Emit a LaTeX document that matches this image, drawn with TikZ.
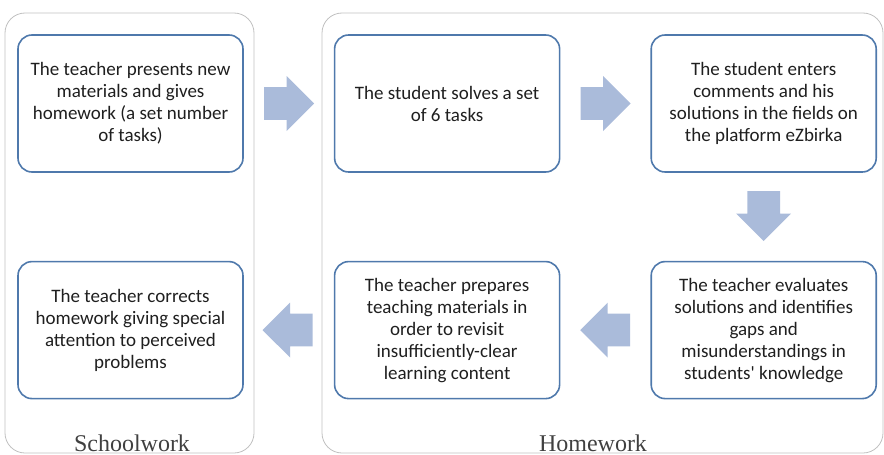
\documentclass[tikz,border=0pt]{standalone}
\usepackage{fontspec}
\setmainfont{Liberation Serif}
\newfontfamily\boxfont{Carlito}
\usetikzlibrary{positioning,shapes.arrows}
\definecolor{boxblue}{RGB}{79,121,172}
\definecolor{arrowblue}{RGB}{170,187,218}
\definecolor{framegray}{RGB}{192,192,192}
\definecolor{labelgray}{RGB}{64,64,64}

\begin{document}
\begin{tikzpicture}[x=1pt,y=-1pt,
  stepbox/.style={draw=boxblue, line width=1.6pt, rounded corners=14pt, fill=white,
    minimum width=225pt, minimum height=137pt, inner sep=0pt, align=center,
    text=black!88, font=\boxfont\fontsize{19}{22}\selectfont},
  flowarrow/.style={single arrow, fill=arrowblue, draw=none, inner sep=16pt,
    minimum height=50pt, minimum width=55pt, single arrow head extend=11pt},
  phase/.style={draw=framegray, line width=0.8pt, rounded corners=20pt},
  phaselabel/.style={anchor=base, text=labelgray, font=\fontsize{24}{28}\selectfont}]
\useasboundingbox (0,0) rectangle (884,455);

\draw[phase] (5,13) rectangle (254,453);
\draw[phase] (322,13) rectangle (883,453);

\node[stepbox] (b1) at (130.5,103.5) {The teacher presents new\\materials and gives\\homework (a set number\\of tasks)};
\node[stepbox, right=90pt of b1] (b2) {The student solves a set\\of 6 tasks};
\node[stepbox, right=90pt of b2] (b3) {The student enters\\comments and his\\solutions in the fields on\\the platform eZbirka};
\node[stepbox, below=88pt of b3] (b4) {The teacher evaluates\\solutions and identifies\\gaps and\\misunderstandings in\\students' knowledge};
\node[stepbox, left=90pt of b4] (b5) {The teacher prepares\\teaching materials in\\order to revisit\\insufficiently-clear\\learning content};
\node[stepbox, left=90pt of b5] (b6) {The teacher corrects\\homework giving special\\attention to perceived\\problems};

\node[flowarrow, right=20pt of b1, anchor=tail] (a12) {};
\node[flowarrow, right=20pt of b2, anchor=tail] (a23) {};
\node[flowarrow, shape border rotate=270, below=18pt of b3, anchor=tail] (a34) {};
\node[flowarrow, shape border rotate=180, left=20pt of b4, anchor=tail] (a45) {};
\node[flowarrow, shape border rotate=180, left=21pt of b5, anchor=tail] (a56) {};

\node[phaselabel] (schoolwork) at (132,451) {Schoolwork};
\node[phaselabel] (homework) at (593,451) {Homework};
\end{tikzpicture}
\end{document}
